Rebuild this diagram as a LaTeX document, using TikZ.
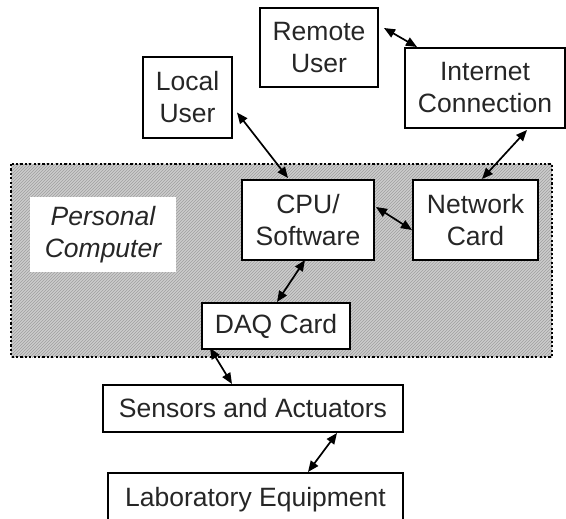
\documentclass[tikz,border=0pt]{standalone}
\usepackage{fontspec}
\setmainfont{Liberation Sans}
\usetikzlibrary{arrows.meta,patterns,calc}

\definecolor{ink}{gray}{0.15}

\tikzset{
  unit/.style={draw=black, line width=2pt, fill=white, align=center, text=ink,
    inner sep=0pt, font=\fontsize{26.5}{32}\selectfont},
  link/.style={line width=1.7pt,
    {Triangle[length=11pt,width=9pt]}-{Triangle[length=11pt,width=9pt]}},
}

\begin{document}
\begin{tikzpicture}[x=1pt, y=-1pt]
  \useasboundingbox (0,0) rectangle (566,519);
  \clip (0,0) rectangle (566,519);

  % personal computer region: hatched grey with a dotted outline
  \fill[gray!40] (11,164) rectangle (552,357);
  \fill[pattern=north east lines, pattern color=gray!75] (11,164) rectangle (552,357);
  \draw[line width=2.5pt, dash pattern=on 2.2pt off 2.2pt] (11,164) rectangle (552,357);
  \node[fill=white, inner sep=0pt, minimum width=146pt, minimum height=75pt,
        align=center, text=ink, font=\fontsize{26.5}{32}\selectfont\itshape]
        (pc) at (103,234.5) {Personal\\Computer};

  % units
  \node[unit, minimum width=118pt, minimum height=79pt] (remote) at (319,47.5) {Remote\\User};
  \node[unit, minimum width=160pt, minimum height=80pt] (internet) at (485,88) {Internet\\Connection};
  \node[unit, minimum width=89pt, minimum height=81pt] (local) at (187.5,97.5) {Local\\User};
  \node[unit, minimum width=132pt, minimum height=80pt] (cpu) at (308,220) {CPU/\\Software};
  \node[unit, minimum width=125pt, minimum height=80pt] (network) at (475.5,220) {Network\\Card};
  \node[unit, minimum width=148pt, minimum height=46pt] (daq) at (276,326) {DAQ Card};
  \node[unit, minimum width=300pt, minimum height=47pt] (sensors) at (253,408.5) {Sensors and Actuators};
  \node[unit, minimum width=295pt, minimum height=54pt] (lab) at (255.5,500) {Laboratory Equipment};

  % two-way connections
  \draw[link] ($(remote.east)+(5,-19.5)$) -- ($(internet.north west)+(13,0)$);
  \draw[link] ($(local.east)+(4,15)$) -- ($(cpu.north)+(-20,-1)$);
  \draw[link] ($(internet.south)+(42,1)$) -- ($(network.north)+(6.5,0)$);
  \draw[link] ($(cpu.east)+(1,-13)$) -- ($(network.west)+(0,10)$);
  \draw[link] ($(cpu.south)+(-3,-1)$) -- ($(daq.north)+(1,0)$);
  \draw[link] ($(daq.south west)+(9,-2)$) -- ($(sensors.north)+(-21,0)$);
  \draw[link] ($(sensors.south)+(84,0)$) -- ($(lab.north)+(52.5,0)$);
\end{tikzpicture}
\end{document}
